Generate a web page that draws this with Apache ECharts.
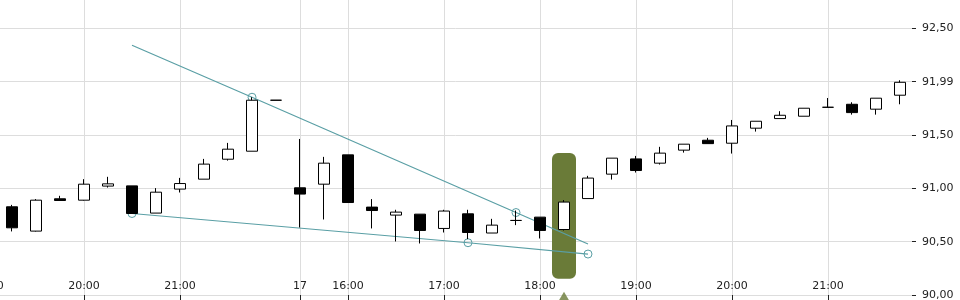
<!DOCTYPE html>
<html>
<head>
<meta charset="utf-8">
<script src="https://cdn.jsdelivr.net/npm/echarts@6/dist/echarts.min.js"></script>
<style>
html,body{margin:0;padding:0;background:#fff;}
#chart{width:960px;height:300px;}
</style>
</head>
<body>
<div id="chart"></div>
<script>
// slot keys (15-minute candles); slot 0 is the 19:00 slot just left of the visible area
var categories = [
  '16 19:00','16 19:15','16 19:30','16 19:45','16 20:00','16 20:15','16 20:30','16 20:45',
  '16 21:00','16 21:15','16 21:30','16 21:45','16 22:00',
  '17 15:30','17 15:45','17 16:00','17 16:15','17 16:30','17 16:45','17 17:00','17 17:15',
  '17 17:30','17 17:45','17 18:00','17 18:15','17 18:30','17 18:45','17 19:00','17 19:15',
  '17 19:30','17 19:45','17 20:00','17 20:15','17 20:30','17 20:45','17 21:00','17 21:15',
  '17 21:30','17 21:45'
];
var xTickIndex  = [0, 4, 8, 13, 15, 19, 23, 27, 31, 35];
var xTickLabels = ['19:00','20:00','21:00','17','16:00','17:00','18:00','19:00','20:00','21:00'];

var yTickValues = [90, 90.5, 91, 91.5, 92, 92.5];
var yTickLabels = ['90,00','90,50','91,00','91,50','91,99','92,50'];

// candles for slots 1..38
var opens  = [90.827,90.599,90.902,90.889,91.021,91.023,90.768,90.993,91.086,91.273,91.348,91.826,
              91.005,91.039,91.314,90.824,90.749,90.758,90.624,90.761,90.581,90.699,90.730,90.614,
              90.904,91.133,91.276,91.236,91.358,91.451,91.423,91.564,91.654,91.676,91.760,91.788,
              91.742,91.873];
var closes = [90.630,90.889,90.886,91.039,91.042,90.764,90.964,91.045,91.227,91.367,91.826,91.826,
              90.946,91.236,90.867,90.792,90.777,90.605,90.787,90.586,90.655,90.699,90.605,90.871,
              91.096,91.283,91.167,91.330,91.414,91.419,91.585,91.629,91.685,91.751,91.760,91.710,
              91.845,91.994];
var lows   = [90.596,90.595,90.886,90.885,91.007,90.764,90.768,90.961,91.086,91.260,91.348,91.826,
              90.633,90.708,90.867,90.624,90.502,90.483,90.586,90.524,90.581,90.655,90.530,90.605,
              90.904,91.082,91.148,91.223,91.335,91.419,91.326,91.532,91.654,91.676,91.760,91.691,
              91.691,91.788];
var highs  = [90.845,90.899,90.930,91.086,91.108,91.023,91.002,91.098,91.276,91.426,91.854,91.826,
              91.463,91.295,91.314,90.899,90.799,90.758,90.799,90.799,90.714,90.792,90.730,90.890,
              91.117,91.283,91.304,91.389,91.414,91.473,91.641,91.629,91.723,91.751,91.847,91.807,
              91.845,92.013];

// trend lines: [slot, value, showCircle]
var upperTrend = [[6, 92.341, false], [11, 91.854, true], [22, 90.773, true], [25, 90.478, false]];
var lowerTrend = [[6, 90.764, true], [20, 90.490, true], [25, 90.384, true]];

// highlighted event: [slot, top, bottom]
var eventBand = [[24, 91.332, 90.153]];
var eventMarker = [[24, 89.975]];

var candleData = [['-','-','-','-']];
for (var i = 0; i < opens.length; i++) {
  candleData.push([opens[i], closes[i], lows[i], highs[i]]);
}
function trendData(pts) {
  var arr = categories.map(function(){ return null; });
  pts.forEach(function(p){
    arr[p[0]] = { value: p[1], symbol: p[2] ? 'circle' : 'none' };
  });
  return arr;
}
var tickSet = {};
xTickIndex.forEach(function(ix, k){ tickSet[ix] = xTickLabels[k]; });
function isTick(ix){ return tickSet.hasOwnProperty(ix); }

var TEAL = '#5a9fa5';
var OLIVE = '#6a7b38';
var FONT = 'DejaVu Sans';

function trendSeries(pts) {
  return {
    type: 'line',
    z: 2,
    data: trendData(pts),
    connectNulls: true,
    symbolSize: 8,
    showSymbol: true,
    lineStyle: { color: TEAL, width: 1.2 },
    itemStyle: { color: 'rgba(0,0,0,0)', borderColor: TEAL, borderWidth: 1 },
    emphasis: { disabled: true }
  };
}

var chart = echarts.init(document.getElementById('chart'), null, {renderer: 'canvas'});
chart.setOption({
  animation: false,
  backgroundColor: '#fff',
  grid: { left: -24, right: 48, top: -25, bottom: 5, containLabel: false, outerBoundsMode: 'none' },
  xAxis: {
    type: 'category',
    data: categories,
    boundaryGap: true,
    axisLine: { show: true, lineStyle: { color: '#dddddd', width: 1 } },
    axisTick: { show: true, alignWithLabel: true, interval: function(ix){ return isTick(ix); },
                length: 5, lineStyle: { color: '#222' } },
    axisLabel: { show: true, inside: true, margin: 3, interval: function(ix){ return isTick(ix); },
                 formatter: function(v, ix){ return tickSet[ix] || ''; },
                 color: '#222', fontFamily: FONT, fontSize: 11 },
    splitLine: { show: true, alignWithLabel: true, interval: function(ix){ return isTick(ix); },
                 lineStyle: { color: '#dddddd', width: 1 } }
  },
  yAxis: {
    type: 'value',
    position: 'right',
    min: 90, max: 93, interval: 0.5,
    axisLine: { show: false },
    axisTick: { show: true, length: 4, lineStyle: { color: '#222' } },
    axisLabel: { margin: 10, color: '#222', fontFamily: FONT, fontSize: 11,
                 formatter: function(v){
                   for (var k = 0; k < yTickValues.length; k++) {
                     if (Math.abs(yTickValues[k] - v) < 1e-6) return yTickLabels[k];
                   }
                   return '';
                 } },
    splitLine: { show: true, lineStyle: { color: '#dddddd', width: 1 } }
  },
  series: [
    {
      type: 'custom',
      z: 1,
      encode: { x: 0, y: [1, 2] },
      data: eventBand,
      renderItem: function(params, api){
        var p1 = api.coord([api.value(0), api.value(1)]);
        var p2 = api.coord([api.value(0), api.value(2)]);
        var w = api.size([1, 0])[0];
        return {
          type: 'rect',
          shape: { x: p1[0] - w / 2, y: p1[1], width: w, height: p2[1] - p1[1], r: 6 },
          style: { fill: OLIVE }
        };
      }
    },
    trendSeries(upperTrend),
    trendSeries(lowerTrend),
    {
      type: 'candlestick',
      z: 3,
      barWidth: 12,
      data: candleData,
      itemStyle: { color: '#ffffff', color0: '#000000', borderColor: '#000000', borderColor0: '#000000', borderWidth: 1 }
    },
    {
      type: 'scatter',
      z: 5,
      clip: false,
      symbol: 'triangle',
      symbolSize: [14, 12],
      data: eventMarker,
      itemStyle: { color: OLIVE }
    }
  ]
});
</script>
</body>
</html>
